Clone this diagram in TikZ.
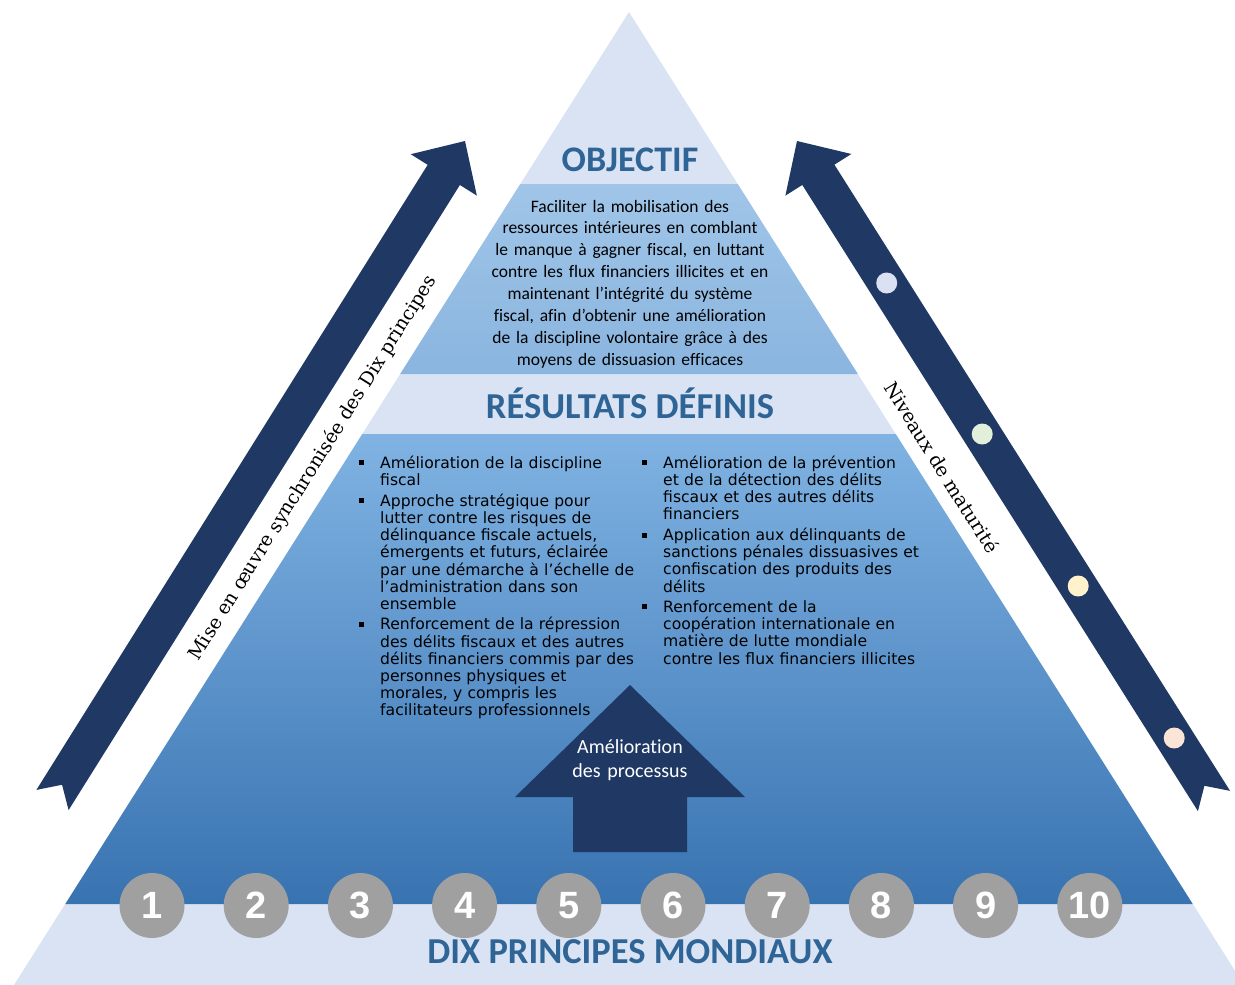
\documentclass[tikz,border=0pt]{standalone}
\usepackage{fontspec}
\setmainfont{Carlito}[Ligatures=NoCommon]
\newfontfamily\bulfont{DejaVu Sans}
\newfontfamily\serfont{DejaVu Serif}
\newfontfamily\numfont{Liberation Sans}
\usetikzlibrary{calc}

\definecolor{paleband}{HTML}{DAE3F3}
\definecolor{navy}{HTML}{203864}
\definecolor{titleblue}{HTML}{2E6496}
\definecolor{objtop}{HTML}{A0C5E8}
\definecolor{objbot}{HTML}{8AB5DF}
\definecolor{restop}{HTML}{80B3E3}
\definecolor{resbot}{HTML}{3873B1}
\definecolor{discgrey}{HTML}{A0A0A0}
\definecolor{dotA}{HTML}{D9E1F2}
\definecolor{dotB}{HTML}{E2EFDA}
\definecolor{dotC}{HTML}{FFF2CC}
\definecolor{dotD}{HTML}{FBE5D6}

% notched block arrow: #1 tail centre, #2 tip, #3 name prefix
\newcommand\notchedarrow[3]{%
  \coordinate (#3-t) at #1;
  \coordinate (#3-h) at #2;
  \coordinate (#3-b) at ($(#3-h)!40pt!(#3-t)$);
  \fill[navy] ($(#3-t)!19pt!90:(#3-h)$)
    -- ($(#3-b)!19pt!90:(#3-h)$)
    -- ($(#3-b)!39pt!90:(#3-h)$)
    -- (#3-h)
    -- ($(#3-b)!39pt!-90:(#3-h)$)
    -- ($(#3-b)!19pt!-90:(#3-h)$)
    -- ($(#3-t)!19pt!-90:(#3-h)$)
    -- ($(#3-t)!18pt!(#3-h)$)
    -- cycle;
}

\begin{document}
\begin{tikzpicture}[x=1pt,y=-1pt,
  headline/.style={font=\fontsize{36.5}{40}\selectfont\bfseries, text=titleblue, inner sep=0pt, anchor=base},
  bodytext/.style={font=\fontsize{17.5}{21.9}\selectfont, inner sep=0pt, text width=282pt, align=center, anchor=base},
  proctext/.style={font=\fontsize{20}{24}\selectfont, text=white, inner sep=0pt, text width=120pt, align=center, anchor=base},
  bulitem/.style={font=\bulfont\fontsize{15.6}{17.2}\selectfont, inner sep=0pt, text width=256pt, align=left, anchor=base west},
  bulmark/.style={fill=black, minimum size=5pt, inner sep=0pt},
  numdisc/.style={circle, fill=discgrey, minimum size=65pt, inner sep=0pt, text=white, font=\numfont\bfseries\fontsize{38}{40}\selectfont},
  dot/.style={circle, minimum size=21pt, inner sep=0pt},
  sidetext/.style={font=\serfont\fontsize{19}{22}\selectfont, inner sep=0pt}
]
\useasboundingbox (0,0) rectangle (1235,985);
\clip (0,0) rectangle (1235,985);

% pyramid body and its bands
\fill[paleband] (629,12) -- (1244,985) -- (14,985) -- cycle;
\shade[top color=objtop, bottom color=objbot]
  (520.3,184) -- (737.7,184) -- (857.8,374) -- (400.2,374) -- cycle;
\shade[top color=restop, bottom color=resbot]
  (362.3,434) -- (895.7,434) -- (1192.7,904) -- (65.3,904) -- cycle;

% headings
\node[headline, font=\fontsize{36}{40}\selectfont\bfseries] (objtitle) at (630,171) {OBJECTIF};
\node[headline] (restitle) at (630,418) {RÉSULTATS DÉFINIS};
\node[headline] (basetitle) at (630,963) {DIX PRINCIPES MONDIAUX};

% objective statement
\node[bodytext] (objtext) at (630,212) {Faciliter la mobilisation des\\
ressources intérieures en comblant\\
le manque à gagner fiscal, en luttant\\
contre les flux financiers illicites et en\\
maintenant l’intégrité du système\\
fiscal, afin d’obtenir une amélioration\\
de la discipline volontaire grâce à des\\
moyens de dissuasion efficaces};

% expected outcomes, left column
\node[bulitem] (b1) at (380,468.3) {Amélioration de la discipline\\fiscal};
\node[bulitem] (b2) at (380,506.3) {Approche stratégique pour\\lutter contre les risques de\\délinquance fiscale actuels,\\émergents et futurs, éclairée\\par une démarche à l’échelle de\\l’administration dans son\\ensemble};
\node[bulitem] (b3) at (380,629.9) {Renforcement de la répression\\des délits fiscaux et des autres\\délits financiers commis par des\\personnes physiques et\\morales, y compris les\\facilitateurs professionnels};
\node[bulmark] (m1) at (361,462.8) {};
\node[bulmark] (m2) at (361,500.8) {};
\node[bulmark] (m3) at (361,624.4) {};

% expected outcomes, right column
\node[bulitem] (c1) at (663,468.3) {Amélioration de la prévention\\et de la détection des délits\\fiscaux et des autres délits\\financiers};
\node[bulitem] (c2) at (663,540.5) {Application aux délinquants de\\sanctions pénales dissuasives et\\confiscation des produits des\\délits};
\node[bulitem] (c3) at (663,612.4) {Renforcement de la\\coopération internationale en\\matière de lutte mondiale\\contre les flux financiers illicites};
\node[bulmark] (n1) at (644,462.8) {};
\node[bulmark] (n2) at (644,535.0) {};
\node[bulmark] (n3) at (644,606.9) {};

% process improvement arrow
\fill[navy] (630,685) -- (745,797) -- (687,797) -- (687,852)
  -- (573,852) -- (573,797) -- (515,797) -- cycle;
\node[proctext] (proc) at (630,753) {Amélioration\\des processus};

% the ten principles
\foreach \n in {1,...,10}
  \node[numdisc] (d\n) at ({152+104.2*(\n-1)},905.5) {\n};

% side arrows
\notchedarrow{(52.5,800)}{(465,141)}{la}
\notchedarrow{(1214,801)}{(797,141)}{ra}

\node[dot, fill=dotA] (lv1) at (886.7,283) {};
\node[dot, fill=dotB] (lv2) at (982.2,434) {};
\node[dot, fill=dotC] (lv3) at (1078.2,586) {};
\node[dot, fill=dotD] (lv4) at (1174.2,738) {};

\node[sidetext, rotate=58] (lefttxt) at (313,468) {Mise en œuvre synchronisée des Dix principes};
\node[sidetext, rotate=-58] (righttxt) at (942,467) {Niveaux de maturité};
\end{tikzpicture}
\end{document}
